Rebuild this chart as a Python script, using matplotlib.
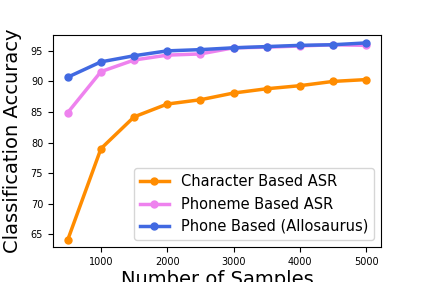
import matplotlib
matplotlib.use("Agg")
import matplotlib.pyplot as plt

samples = [500, 1000, 1500, 2000, 2500, 3000, 3500, 4000, 4500, 5000]
char_asr = [64.1, 79.0, 84.2, 86.3, 87.0, 88.1, 88.8, 89.3, 90.0, 90.3]
phoneme_asr = [84.9, 91.6, 93.5, 94.3, 94.5, 95.5, 95.6, 95.8, 96.0, 95.9]
allosaurus = [90.7, 93.2, 94.2, 95.0, 95.2, 95.5, 95.7, 95.9, 96.0, 96.3]

fig = plt.figure(figsize=(4.23, 2.82), dpi=100)
ax = fig.add_axes([0.125, 0.124, 0.776, 0.752])

ax.plot(samples, char_asr, color="darkorange", marker="o", ms=5, lw=2.5,
        label="Character Based ASR")
ax.plot(samples, phoneme_asr, color="violet", marker="o", ms=5, lw=2.5,
        label="Phoneme Based ASR")
ax.plot(samples, allosaurus, color="royalblue", marker="o", ms=5, lw=2.5,
        label="Phone Based (Allosaurus)")

ax.set_ylim(62.9, 97.6)
ax.set_xticks([1000, 2000, 3000, 4000, 5000])
ax.set_yticks([65, 70, 75, 80, 85, 90, 95])
ax.tick_params(labelsize=7)
ax.set_xlabel("Number of Samples", fontsize=14, labelpad=2)
ax.set_ylabel("Classification Accuracy", fontsize=14, labelpad=6)
ax.legend(loc="lower right", fontsize=10.5, handlelength=2)

fig.savefig("out.png", dpi=100)
